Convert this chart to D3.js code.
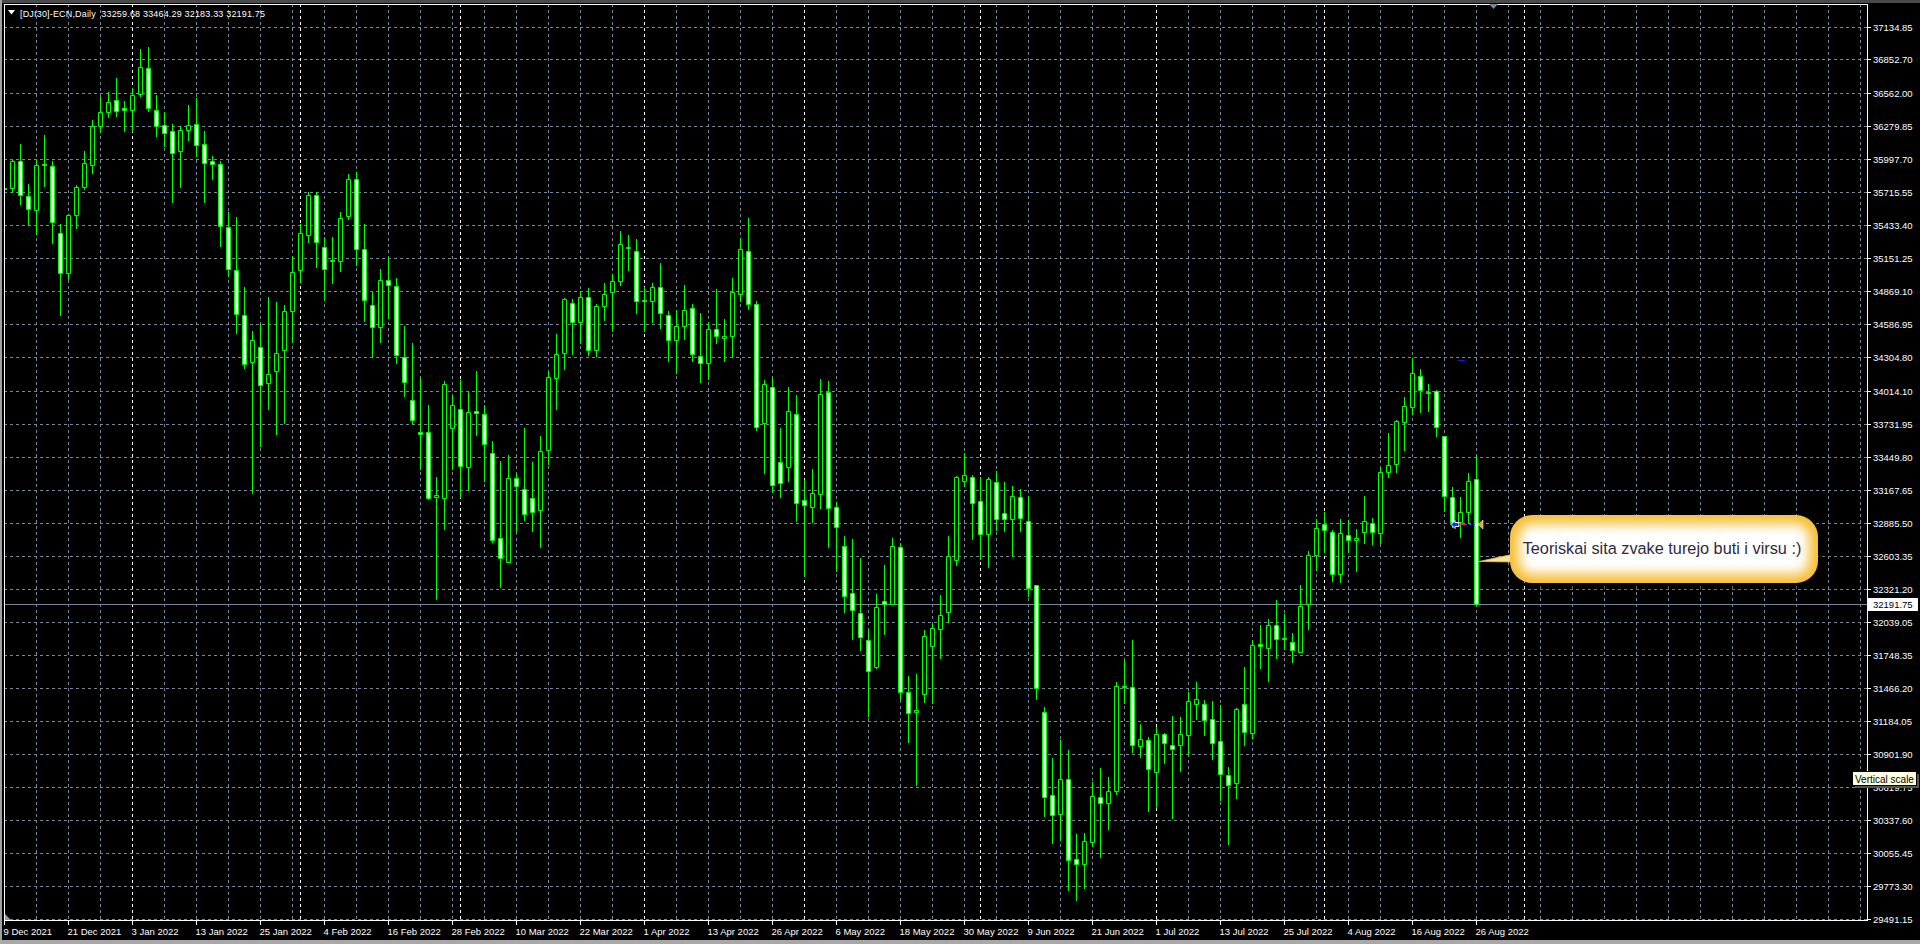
<!DOCTYPE html>
<html><head><meta charset="utf-8">
<script src="https://cdn.jsdelivr.net/npm/d3@7"></script>
<style>
html,body{margin:0;padding:0;background:#000;overflow:hidden}
svg{display:block}
text{font-family:"Liberation Sans",Arial,sans-serif}
</style></head><body>
<svg id="chart" width="1920" height="944"></svg>
<script>
// ---------------- DATA ----------------
const symbol = "[DJI30]-ECN,Daily";
const opens = [35750,35755,35985,35685,35565,35954,35942,35366,35025,35522,35764,35951,36285,36399,36506,36436,36420,36561,36776,36420,
36292,36239,36068,36249,36301,36132,35985,35960,35421,35050,34664,34262,34388,34078,34188,34360,34697,35047,35347,35694,
35249,35133,35124,35513,35832,35231,34749,34562,34964,34910,34306,33940,33666,33658,33109,33101,33692,33863,33366,33840,
33812,33486,32750,32550,33272,33178,33101,32990,33509,34126,34340,34763,34608,34814,34360,34737,34857,34951,35240,35216,
34790,34788,34900,34668,34446,34574,34720,34314,34257,34548,34463,34488,34848,35216,34754,33735,34049,33401,33364,33817,
33079,33020,33132,34005,33017,32684,32280,32109,31879,31649,32212,32189,32678,31434,31260,31416,31829,31976,32118,32566,
33244,33277,33073,32790,33236,32970,32917,33103,32899,32351,31263,30555,30393,30691,30006,29965,30154,30537,30487,30584,
31487,31478,30974,31024,30747,31077,30980,30982,31066,31334,31334,31206,31017,30725,30656,31334,31085,31850,31815,32013,
31898,31864,31778,32193,32605,32871,32808,32450,32782,32737,32802,32880,32800,33318,33386,33747,33873,34139,34002,34010,
33632,33103,32888,32974,33259.68];
const highs = [35871,35994,36132,35789,35994,36209,35985,35442,35531,35779,36065,36331,36531,36577,36693,36494,36607,36939,36960,36546,
36402,36301,36285,36460,36521,36243,36022,35985,35550,35501,34900,34529,34599,34820,34777,34752,35166,35442,35718,35718,
35335,35335,35550,35871,35887,35442,34860,35059,35157,34980,34568,34420,34134,33892,33275,34097,33983,34106,34014,34183,
33897,33583,33412,33463,33315,33700,33406,33626,34183,34500,34811,34797,34871,34891,34757,34942,35011,35382,35353,35313,
34905,34942,35108,34697,34705,34920,34757,34680,34605,34885,34628,34985,35322,35493,34788,34106,34134,33700,34050,33982,
33250,33348,34120,34100,33059,32773,32746,32587,31976,32277,32519,32758,32708,31575,31593,31970,32015,32262,32773,33289,
33480,33297,33274,33280,33324,33238,33203,33174,33117,32351,31307,30873,31021,30938,30222,30227,30661,30788,30711,31525,
31720,31882,31165,31053,31139,31086,31230,31225,31435,31520,31369,31355,31320,30797,31294,31649,31878,32007,32058,32222,
32101,31944,32350,32642,32917,32974,32820,32917,32905,32828,33114,32923,33366,33652,33767,33961,34296,34202,34073,34024,
33632,33194,33109,33309,33464.29];
const lows = [35580,35718,35611,35436,35360,35773,35280,34660,34976,35409,35743,35881,36233,36362,36368,36240,36240,36537,36408,36200,
36108,35635,35764,36163,36025,35635,35826,35258,34998,34513,34213,33143,33541,33863,33649,33735,34431,34949,35289,35074,
34789,34936,35044,35482,35096,34615,34308,34431,34639,34250,33972,33740,33349,33084,32236,32827,33349,33107,33161,33640,
33244,32721,32336,32550,32815,32912,32815,32678,33384,33863,34203,34331,34426,34320,34311,34620,34531,34925,35051,34683,
34528,34603,34554,34271,34169,34460,34271,34092,34120,34426,34271,34311,34783,34717,33675,33312,33149,33107,33244,32902,
32433,32890,33008,32675,32469,32118,31888,31794,31227,31640,31929,32189,31372,31009,30635,31348,31342,31726,32032,32522,
33200,32749,32572,32504,32826,32814,32604,32817,32257,31378,30375,30142,30172,29741,29655,29759,30113,30024,30260,30561,
31342,30924,30879,30419,30449,30826,30354,30758,30905,31206,31068,30862,30510,30133,30525,30983,31040,31641,31529,31726,
31801,31692,31778,31975,32479,32631,32388,32376,32631,32473,32714,32699,32714,33280,33323,33509,33818,33830,33838,33624,
32988,32851,32765,32885,32183.33];
const closes = [35747,35985,35688,35574,35951,35945,35464,35025,35522,35764,35970,36285,36399,36491,36414,36420,36549,36791,36433,36285,
36224,36055,36249,36292,36123,35970,35960,35427,35059,34673,34244,34449,34063,34158,34339,34697,35032,35369,35694,35289,
35059,35127,35498,35832,35231,34792,34562,34964,34924,34320,34086,33769,33649,33101,33126,34077,33889,33375,33837,33826,
33563,32741,32579,33272,33198,32964,32978,33503,34137,34334,34797,34608,34814,34360,34737,34848,34951,35268,35245,34788,
34786,34908,34677,34454,34574,34711,34326,34257,34548,34480,34488,34865,35225,34757,33703,34069,33206,33221,33843,33056,
33038,33141,33988,33011,32849,32259,32138,31908,31619,32165,32191,32687,31437,31257,31283,31911,31985,32094,32596,33277,
33294,33056,32790,33259,32917,32920,33115,32926,32327,31466,30537,30384,30691,30000,29959,30160,30546,30487,30584,31487,
31482,30985,31033,30773,31077,30997,30950,31077,31355,31377,31197,30999,30734,30642,31286,31091,31841,31832,32013,31887,
31893,31798,32176,32605,32843,32820,32442,32800,32737,32757,32903,32808,33323,33383,33755,33881,34167,34024,33996,33704,
33114,32894,32974,33240,32191.75];
const xTickIdx = [0,8,16,24,32,40,48,56,64,72,80,88,96,104,112,120,128,136,144,152,160,168,176,184];
const xTickLabels = ["9 Dec 2021","21 Dec 2021","3 Jan 2022","13 Jan 2022","25 Jan 2022","4 Feb 2022","16 Feb 2022","28 Feb 2022",
"10 Mar 2022","22 Mar 2022","1 Apr 2022","13 Apr 2022","26 Apr 2022","6 May 2022","18 May 2022","30 May 2022","9 Jun 2022",
"21 Jun 2022","1 Jul 2022","13 Jul 2022","25 Jul 2022","4 Aug 2022","16 Aug 2022","26 Aug 2022"];
const yTicks = [37134.85,36852.70,36562.00,36279.85,35997.70,35715.55,35433.40,35151.25,34869.10,34586.95,34304.80,34014.10,
33731.95,33449.80,33167.65,32885.50,32603.35,32321.20,32039.05,31748.35,31466.20,31184.05,30901.90,30619.75,30337.60,
30055.45,29773.30,29491.15];
const monthStartIdx = [16,37,57,80,100,122,144,165,190];
const currentPrice = 32191.75;
const arrowPrice = 32874;
const noteText = "Teoriskai sita zvake turejo buti i virsu :)";
const tooltipText = "Vertical scale";

// ---------------- LAYOUT ----------------
const W = 1920, H = 944;
const L = 4, T = 4, R = 1867, B = 920;
const LIME = "#00ff00", GRID = "#778899";
const svg = d3.select("#chart");
const x = d3.scaleLinear().domain([0, 232]).range([4, 1860]);
const y = d3.scaleLinear().domain([29491.15, 37134.85]).range([919, 26.5]).interpolate(d3.interpolateRound);

// frame
svg.append("rect").attr("x",0).attr("y",0).attr("width",W).attr("height",H).attr("fill","#000");
svg.append("rect").attr("x",0).attr("y",0).attr("width",W).attr("height",3).attr("fill","#4a4a4a");
svg.append("rect").attr("x",0).attr("y",0).attr("width",2).attr("height",H).attr("fill","#a0a0a0");
svg.append("rect").attr("x",0).attr("y",940).attr("width",W).attr("height",4).attr("fill","#a8a8a8");

const defs = svg.append("defs");
defs.append("clipPath").attr("id","plotclip").append("rect")
  .attr("x",L+1).attr("y",T+1).attr("width",R-L-1).attr("height",B-T-1);

const plot = svg.append("g").attr("clip-path","url(#plotclip)");

// grid
const vGrid = d3.range(0, 233, 4);
plot.append("g").selectAll("line").data(vGrid).join("line")
  .attr("x1",d=>x(d)+0.5).attr("x2",d=>x(d)+0.5).attr("y1",T).attr("y2",B)
  .attr("stroke",GRID).attr("stroke-dasharray","3,3");
plot.append("g").selectAll("line").data(yTicks).join("line")
  .attr("x1",L).attr("x2",R).attr("y1",d=>y(d)+0.5).attr("y2",d=>y(d)+0.5)
  .attr("stroke",GRID).attr("stroke-dasharray","3,3");
// month separators
plot.append("g").selectAll("line").data(monthStartIdx).join("line")
  .attr("x1",d=>x(d)+0.5).attr("x2",d=>x(d)+0.5).attr("y1",T).attr("y2",B)
  .attr("stroke","#ffffff").attr("stroke-dasharray","3,3");
// bid line
plot.append("line").attr("x1",L).attr("x2",R).attr("y1",y(currentPrice)+0.5).attr("y2",y(currentPrice)+0.5)
  .attr("stroke",GRID);

// candles
const bars = opens.map((o,i)=>({i,o,h:highs[i],l:lows[i],c:closes[i]}));
const cg = plot.append("g");
cg.selectAll("line").data(bars).join("line")
  .attr("x1",d=>x(d.i)+0.5).attr("x2",d=>x(d.i)+0.5)
  .attr("y1",d=>y(d.h)).attr("y2",d=>y(d.l)+1)
  .attr("stroke",LIME);
cg.selectAll("path").data(bars).join("path")
  .attr("d",d=>{
    const cx = x(d.i);
    const top = y(Math.max(d.o,d.c)), bot = y(Math.min(d.o,d.c));
    const h = Math.max(bot-top,0);
    return `M${cx-1.5},${top+0.5}h4v${h}h-4Z`;
  })
  .attr("fill",d=>d.c>d.o?"#000":"#fff")
  .attr("stroke",LIME);

// arrow objects
const ay = y(arrowPrice)+0.5;
const ox = x(181);
plot.append("path")
  .attr("d",`M${ox-1},${ay} l4,-4 v2 h4 v4 h-4 v2 Z`)
  .attr("fill","#1030ff").attr("stroke","#fff").attr("stroke-width",1);
plot.append("line").attr("x1",ox+7).attr("x2",ox+13).attr("y1",ay).attr("y2",ay).attr("stroke","#ff2020");
plot.append("line").attr("x1",ox+13).attr("x2",ox+25).attr("y1",ay).attr("y2",ay).attr("stroke","#2040ff").attr("stroke-dasharray","2,2");
plot.append("path").attr("d",`M${x(184)+2},${ay} l5,-4.5 v9 Z`).attr("fill","#f0a030").attr("stroke","#fff0c0").attr("stroke-width",0.6);
plot.append("line").attr("x1",x(182)-2).attr("x2",x(182)+5).attr("y1",y(34276)+0.5).attr("y2",y(34276)+0.5).attr("stroke","#1a1acd");

// corner wedge
svg.append("path").attr("d",`M${L+1},914 V${B} H${L+7} Z`).attr("fill","#8a98a8");

// border
svg.append("rect").attr("x",L+0.5).attr("y",T+0.5).attr("width",R-L).attr("height",B-T)
  .attr("fill","none").attr("stroke","#fff");

// right axis
const ya = svg.append("g").attr("transform",`translate(${R},0)`)
  .call(d3.axisRight(y).tickValues(yTicks).tickSize(4).tickSizeOuter(0).tickFormat(d3.format(".2f")));
ya.select(".domain").remove();
ya.selectAll("line").attr("stroke","#fff");
ya.selectAll("text").attr("fill","#fff").attr("font-size","9.5px").attr("x",6)
  .attr("font-family","'Liberation Sans',Arial,sans-serif");

// bottom axis
const xa = svg.append("g").attr("transform",`translate(0,${B})`)
  .call(d3.axisBottom(x).tickValues(xTickIdx).tickSize(5).tickSizeOuter(0).tickFormat((d,i)=>xTickLabels[i]));
xa.select(".domain").remove();
xa.selectAll("line").attr("stroke","#fff");
xa.selectAll("text").attr("fill","#fff").attr("font-size","9.5px").attr("text-anchor","start")
  .attr("x",-1).attr("y",14.5).attr("dy",null).attr("font-family","'Liberation Sans',Arial,sans-serif");

// current price label
const cp = y(currentPrice);
svg.append("rect").attr("x",1868).attr("y",cp-6).attr("width",50).attr("height",13).attr("fill","#fff");
svg.append("text").attr("x",1873).attr("y",cp+4).attr("fill","#000").attr("font-size","9.5px").text(d3.format(".2f")(currentPrice));

// header
svg.append("path").attr("d","M8,10 h7 l-3.5,4.5 Z").attr("fill","#fff");
const fmt = d3.format(".2f"), n = opens.length-1;
svg.append("text").attr("x",20).attr("y",16.5).attr("fill","#fff").attr("font-size","9px")
  .style("white-space","pre").attr("textLength",245).attr("lengthAdjust","spacing")
  .text(`${symbol}  ${fmt(opens[n])} ${fmt(highs[n])} ${fmt(lows[n])} ${fmt(closes[n])}`);

// shift marker
svg.append("path").attr("d","M1489,4 h9 l-4.5,5 Z").attr("fill",GRID);

// callout bubble
const bx = 1510, by = 515, bw = 308, bh = 68, br = 22;
const sh = defs.append("filter").attr("id","bshadow").attr("x","-10%").attr("y","-20%").attr("width","130%").attr("height","160%");
sh.append("feGaussianBlur").attr("stdDeviation",3);
const blur = defs.append("filter").attr("id","innerblur").attr("x","-20%").attr("y","-40%").attr("width","140%").attr("height","180%");
blur.append("feGaussianBlur").attr("stdDeviation",6);
defs.append("clipPath").attr("id","bubbleclip").append("rect")
  .attr("x",bx).attr("y",by).attr("width",bw).attr("height",bh).attr("rx",br);
const bub = svg.append("g");
bub.append("rect").attr("x",bx+3).attr("y",by+4).attr("width",bw).attr("height",bh).attr("rx",br)
  .attr("fill","rgba(0,0,0,0.6)").attr("filter","url(#bshadow)");
bub.append("path").attr("d",`M${x(184)+3},${y(32560)+0.5} L${bx+4},${by+39} L${bx+4},${by+47} Z`)
  .attr("fill","#fbe39a").attr("stroke","#f3bf3a").attr("stroke-width",0.8);
const inner = bub.append("g").attr("clip-path","url(#bubbleclip)");
inner.append("rect").attr("x",bx).attr("y",by).attr("width",bw).attr("height",bh).attr("fill","#f5be34");
inner.append("rect").attr("x",bx+9).attr("y",by+9).attr("width",bw-18).attr("height",bh-18).attr("rx",14)
  .attr("fill","#fff").attr("filter","url(#innerblur)");
bub.append("text").attr("x",1662).attr("y",554).attr("text-anchor","middle")
  .attr("font-size","16.3px").attr("fill","#2e2a3a").text(noteText);

// tooltip
svg.append("rect").attr("x",1855).attr("y",774).attr("width",64).attr("height",14).attr("fill","#555");
svg.append("rect").attr("x",1852.5).attr("y",771.5).attr("width",64).attr("height",14)
  .attr("fill","#ffffe1").attr("stroke","#000");
svg.append("text").attr("x",1855).attr("y",782.5).attr("fill","#000").attr("font-size","10px").text(tooltipText);
</script>
</body></html>
